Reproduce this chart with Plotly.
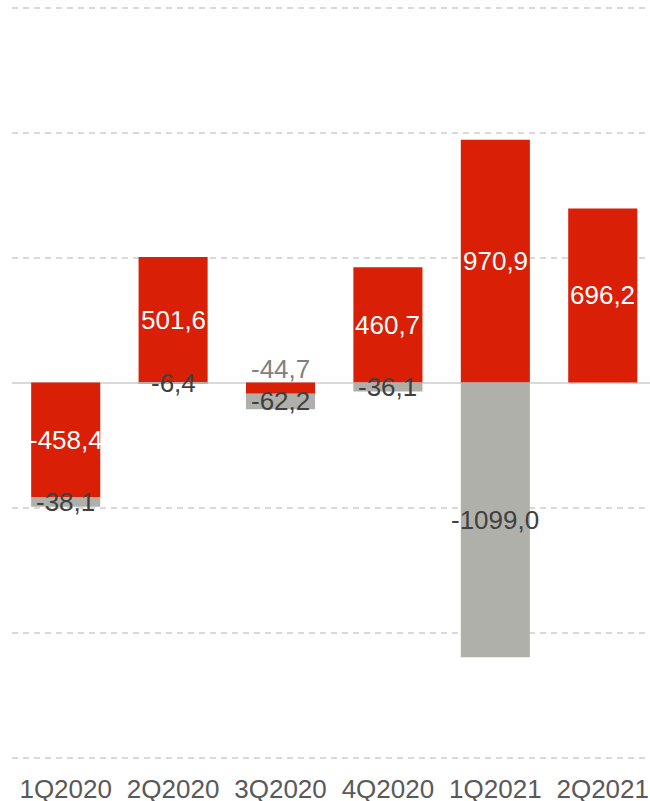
import plotly.graph_objects as go

categories = ["1Q2020", "2Q2020", "3Q2020", "4Q2020", "1Q2021", "2Q2021"]
red_values = [-458.4, 501.6, -44.7, 460.7, 970.9, 696.2]
gray_values = [-38.1, -6.4, -62.2, -36.1, -1099.0, None]

RED = "#D91F06"
GRAY = "#B0B0AB"
DARK = "#404040"
FONT = "Liberation Sans, Arial, sans-serif"

def fmt(v):
    return f"{v:.1f}".replace(".", ",")

fig = go.Figure()
fig.add_trace(go.Bar(x=categories, y=red_values, marker=dict(color=RED, line=dict(width=0)),
                     name="red", hoverinfo="skip"))
fig.add_trace(go.Bar(x=categories, y=[v if v is not None else 0 for v in gray_values],
                     marker=dict(color=GRAY, line=dict(width=0)), name="gray", hoverinfo="skip"))

annotations = []
for c, r, g in zip(categories, red_values, gray_values):
    if abs(r) >= 100:
        annotations.append(dict(x=c, y=r / 2, text=fmt(r), showarrow=False,
                                font=dict(color="white", size=26, family=FONT)))
    else:
        annotations.append(dict(x=c, y=0, text=fmt(r), showarrow=False, yanchor="bottom",
                                yshift=-3, font=dict(color="#808080", size=26, family=FONT)))
    if g is not None:
        base = min(r, 0)
        annotations.append(dict(x=c, y=base + g / 2, text=fmt(g), showarrow=False,
                                font=dict(color=DARK, size=26, family=FONT)))

fig.update_layout(
    barmode="relative",
    bargap=0.357,
    width=650, height=801,
    margin=dict(l=12, r=0, t=5, b=41),
    plot_bgcolor="white", paper_bgcolor="white",
    showlegend=False,
    hovermode=False,
    annotations=annotations,
    font=dict(family=FONT, size=26, color="#595959"),
    xaxis=dict(range=[-0.5, 5.44], showgrid=False, showline=False, ticks="",
               automargin=False, ticklabeloverflow="allow", ticklabelstandoff=11,
               tickfont=dict(size=26, color="#595959", family=FONT)),
    yaxis=dict(range=[-1510, 1510], tickvals=[-1500, -1000, -500, 0, 500, 1000, 1500],
               showticklabels=False, showgrid=True, gridcolor="#D9D9D9", gridwidth=2,
               griddash="6px,5px", zeroline=True, zerolinecolor="#D9D9D9", zerolinewidth=2,
               showline=False, automargin=False),
)

fig.write_html("out.html", config={"displayModeBar": False},
               post_script="document.body.style.margin='0';document.body.style.overflow='hidden';")
